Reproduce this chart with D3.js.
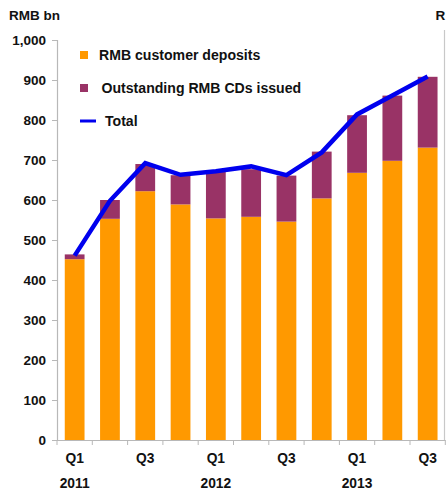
<!DOCTYPE html>
<html>
<head>
<meta charset="utf-8">
<script src="https://cdn.jsdelivr.net/npm/d3@7"></script>
<style>
  html, body { margin: 0; padding: 0; background: #fff; }
  svg { display: block; font-family: "Liberation Sans", Arial, sans-serif; }
</style>
</head>
<body>
<svg id="chart" width="446" height="490"></svg>
<script>
// Quarterly RMB deposits and CDs, RMB bn
const quarters = ["Q1 2011", "Q2 2011", "Q3 2011", "Q4 2011",
                  "Q1 2012", "Q2 2012", "Q3 2012", "Q4 2012",
                  "Q1 2013", "Q2 2013", "Q3 2013"];
const quarterLabels = ["Q1", "", "Q3", "", "Q1", "", "Q3", "", "Q1", "", "Q3"];
const yearLabels = ["2011", "", "", "", "2012", "", "", "", "2013", "", ""];
const deposits = [452, 553, 622, 589, 554, 558, 546, 604, 668, 698, 731];
const cds = [12, 47, 68, 73, 118, 119, 115, 117, 144, 163, 177];
const totals = [461, 598, 692, 663, 672, 684, 662, 719, 814, 861, 909];
const yTicks = [0, 100, 200, 300, 400, 500, 600, 700, 800, 900, 1000];

const legendItems = [
  { label: "RMB customer deposits", color: "#ff9900", kind: "box" },
  { label: "Outstanding RMB CDs issued", color: "#993366", kind: "box" },
  { label: "Total", color: "#0000ee", kind: "line" }
];

const svg = d3.select("#chart");
const plotLeft = 57, plotRight = 445.3, plotTop = 40, plotBottom = 440;

const x = d3.scaleBand().domain(quarters).range([plotLeft, plotRight])
  .paddingInner(0.44).paddingOuter(0.22);
const y = d3.scaleLinear().domain([0, 1000]).range([plotBottom, plotTop]);

const axisColor = "#b8b8b8";
const textColor = "#111";

// y axis
const yAxis = svg.append("g").attr("transform", `translate(${plotLeft},0)`)
  .call(d3.axisLeft(y).tickValues(yTicks).tickSize(5).tickPadding(6)
    .tickFormat(d3.format(",")));
yAxis.select(".domain").attr("stroke", axisColor).attr("stroke-width", 1.2);
yAxis.selectAll(".tick line").attr("stroke", axisColor);
yAxis.selectAll(".tick text").attr("fill", textColor)
  .attr("font-size", 13.5).attr("font-weight", "bold")
  .attr("font-family", "Liberation Sans, Arial, sans-serif");

// stacked bars
const stack = d3.stack().keys(["dep", "cd"])(
  quarters.map((q, i) => ({ q, dep: deposits[i], cd: cds[i] })));
const colors = { dep: "#ff9900", cd: "#993366" };

stack.forEach(layer => {
  svg.append("g").selectAll("rect").data(layer).join("rect")
    .attr("x", d => x(d.data.q))
    .attr("width", x.bandwidth())
    .attr("y", d => y(d[1]))
    .attr("height", d => y(d[0]) - y(d[1]))
    .attr("fill", colors[layer.key]);
});

// x axis with ticks at band edges
const xg = svg.append("g");
xg.append("line").attr("x1", plotLeft).attr("x2", plotRight)
  .attr("y1", plotBottom + 0.5).attr("y2", plotBottom + 0.5)
  .attr("stroke", axisColor).attr("stroke-width", 1.2);
const edges = quarters.map(q => x(q) - x.step() * x.paddingInner() / 2);
edges.push(plotRight);
xg.selectAll(".xt").data(edges).join("line")
  .attr("x1", d => d).attr("x2", d => d)
  .attr("y1", plotBottom).attr("y2", plotBottom + 5)
  .attr("stroke", axisColor);
xg.selectAll(".ql").data(quarters).join("text")
  .attr("x", d => x(d) + x.bandwidth() / 2).attr("y", 463)
  .attr("text-anchor", "middle").attr("font-size", 13.8).attr("font-weight", "bold")
  .attr("fill", textColor).text((d, i) => quarterLabels[i]);
xg.selectAll(".yl").data(quarters).join("text")
  .attr("x", d => x(d) + x.bandwidth() / 2).attr("y", 488)
  .attr("text-anchor", "middle").attr("font-size", 13.8).attr("font-weight", "bold")
  .attr("fill", textColor).text((d, i) => yearLabels[i]);

// total line
const line = d3.line().x((d, i) => x(quarters[i]) + x.bandwidth() / 2).y(d => y(d));
svg.append("path").datum(totals).attr("d", line)
  .attr("fill", "none").attr("stroke", "#0000ee").attr("stroke-width", 4.5)
  .attr("stroke-linejoin", "miter");

// unit label
svg.append("text").attr("x", 9).attr("y", 20)
  .attr("font-size", 13.5).attr("font-weight", "bold").attr("fill", textColor)
  .text("RMB bn");

// legend
const lg = svg.append("g");
legendItems.forEach((it, i) => {
  const cy = 55 + i * 33;
  if (it.kind === "box") {
    lg.append("rect").attr("x", 80).attr("y", cy - 4).attr("width", 8).attr("height", 8)
      .attr("fill", it.color);
  } else {
    lg.append("line").attr("x1", 80).attr("x2", 96).attr("y1", cy).attr("y2", cy)
      .attr("stroke", it.color).attr("stroke-width", 3);
  }
  lg.append("text").attr("x", it.kind === "box" ? 99 + i * 2.5 : 105).attr("y", cy + 5)
    .attr("font-size", 14.1).attr("font-weight", "bold").attr("fill", textColor)
    .text(it.label);
});

// neighbouring panel edge at the right border
const side = svg.append("g");
side.append("text").attr("x", 435.5).attr("y", 20)
  .attr("font-size", 13.5).attr("font-weight", "bold").attr("fill", textColor)
  .text("R");
side.append("line").attr("x1", 444.5).attr("x2", 444.5).attr("y1", 30).attr("y2", plotBottom)
  .attr("stroke", "#c8c8c8").attr("stroke-width", 1.2);
</script>
</body>
</html>
